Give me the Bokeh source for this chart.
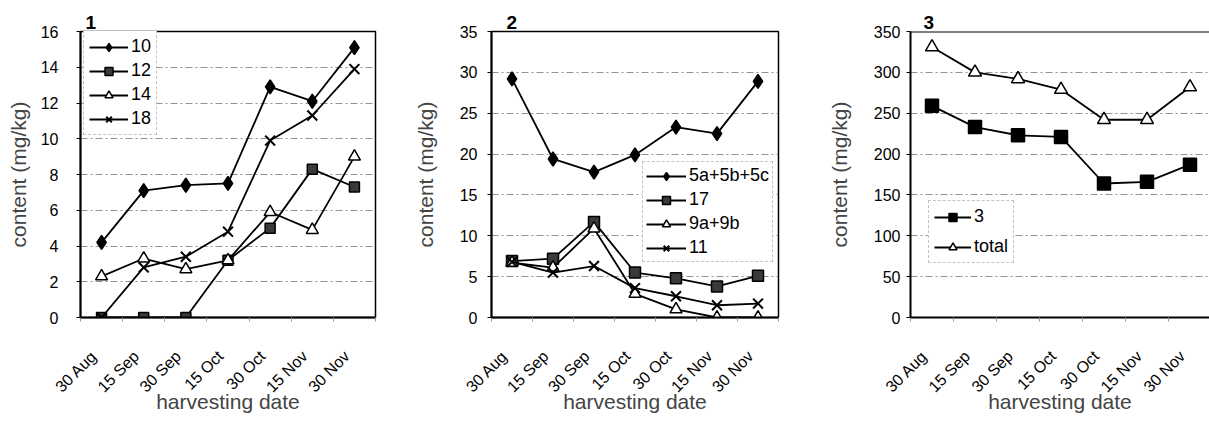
import math
from bokeh.plotting import figure
from bokeh.layouts import row
from bokeh.models import FixedTicker, Legend, LegendItem, Range1d, Span
from bokeh.embed import file_html
from bokeh.resources import INLINE

# ---------------- data ----------------
dates = ["30 Aug", "15 Sep", "30 Sep", "15 Oct", "30 Oct", "15 Nov", "30 Nov"]

# panel 1
p1_names = ["10", "12", "14", "18"]
s10 = [4.2, 7.1, 7.4, 7.5, 12.9, 12.1, 15.1]
s12 = [0, 0, 0, 3.2, 5.0, 8.3, 7.3]
s14 = [2.3, 3.3, 2.7, 3.2, 5.9, 4.9, 9.0]
s18 = [0, 2.8, 3.4, 4.8, 9.9, 11.3, 13.9]

# panel 2
p2_names = ["5a+5b+5c", "17", "9a+9b", "11"]
s5abc = [29.2, 19.4, 17.8, 19.9, 23.3, 22.5, 28.9]
s17 = [6.9, 7.2, 11.7, 5.5, 4.8, 3.8, 5.1]
s9ab = [6.7, 6.1, 10.9, 2.9, 1.0, 0, 0]
s11 = [6.8, 5.5, 6.3, 3.6, 2.6, 1.5, 1.7]

# panel 3
p3_names = ["3", "total"]
s3 = [259, 233, 223, 221, 164, 166, 187]
stotal = [331, 300, 292, 279, 242, 242, 282]

FONT = "Liberation Sans"
xi = list(range(len(dates)))
LABEL_SHIFT = -0.18   # rotated tick labels sit slightly left of the category centre


def make_fig(width, mb_left, mb_right, mb_top, mb_bottom, ymax, ystep, xend,
             tick_standoff, ylabel_standoff, title, title_offset):
    p = figure(width=width, height=423, output_backend="svg", toolbar_location=None,
               min_border_left=mb_left, min_border_right=mb_right,
               min_border_top=mb_top, min_border_bottom=mb_bottom,
               x_range=Range1d(-0.5, xend), y_range=Range1d(0, ymax))
    p.background_fill_color = "white"
    p.border_fill_color = "white"
    p.outline_line_color = "black"
    p.outline_line_width = 1.5
    p.outline_line_alpha = 1

    p.title.text = title
    p.title.align = "left"
    p.title.offset = title_offset
    p.title.standoff = 6
    p.title.text_font = FONT
    p.title.text_font_size = "19px"
    p.title.text_font_style = "bold"
    p.title.text_color = "black"

    # x axis
    xa = p.xaxis[0]
    label_ticks = [i + LABEL_SHIFT for i in xi]
    xa.ticker = FixedTicker(ticks=label_ticks,
                            minor_ticks=[i - 0.5 for i in range(len(dates) + 1)])
    xa.major_label_overrides = {t: d for t, d in zip(label_ticks, dates)}
    xa.major_label_orientation = math.pi / 4
    xa.major_label_text_font = FONT
    xa.major_label_text_font_size = "16px"
    xa.major_label_text_color = "black"
    xa.major_label_standoff = 30
    xa.major_tick_line_color = None
    xa.minor_tick_line_color = "#999999"
    xa.minor_tick_out = 4
    xa.minor_tick_in = 0
    xa.axis_line_width = 2
    xa.axis_line_color = "black"
    xa.axis_label = "harvesting date"
    xa.axis_label_text_font = FONT
    xa.axis_label_text_font_size = "21px"
    xa.axis_label_text_font_style = "normal"
    xa.axis_label_standoff = -14

    # y axis
    ya = p.yaxis[0]
    ya.ticker = FixedTicker(ticks=list(range(0, ymax + 1, ystep)))
    ya.major_label_text_font = FONT
    ya.major_label_text_font_size = "16px"
    ya.major_label_text_color = "black"
    ya.major_label_standoff = tick_standoff
    ya.major_tick_out = 4
    ya.major_tick_in = 0
    ya.major_tick_line_color = "black"
    ya.minor_tick_line_color = None
    ya.axis_line_width = 2
    ya.axis_line_color = "black"
    ya.axis_label = "content (mg/kg)"
    ya.axis_label_text_font = FONT
    ya.axis_label_text_font_size = "21px"
    ya.axis_label_text_font_style = "normal"
    ya.axis_label_standoff = ylabel_standoff

    p.xgrid.grid_line_color = None
    p.ygrid.grid_line_color = "#777777"
    p.ygrid.grid_line_dash = "7 3 2 3"
    p.ygrid.grid_line_width = 1
    p.ygrid.grid_line_alpha = 0.8
    return p


def add_series(p, ys, marker, size, fill, lw=1.8, mlw=1.5):
    r_line = p.line(xi, ys, line_color="black", line_width=lw)
    r_pts = p.scatter(xi, ys, marker=marker, size=size, fill_color=fill,
                      line_color="black", line_width=mlw)
    return [r_line, r_pts]


def add_legend(p, names, rends, loc, glyph_width, spacing, padding):
    lg = Legend(items=[LegendItem(label=n, renderers=rr) for n, rr in zip(names, rends)],
                location=loc)
    lg.glyph_width = glyph_width
    lg.glyph_height = 20
    lg.label_height = 20
    lg.label_standoff = 3
    lg.spacing = spacing
    lg.padding = padding
    lg.margin = 0
    lg.label_text_font = FONT
    lg.label_text_font_size = "18px"
    lg.label_text_color = "black"
    lg.border_line_color = "#888888"
    lg.border_line_dash = "3 2"
    lg.border_line_width = 1
    lg.background_fill_color = "white"
    lg.background_fill_alpha = 1
    p.add_layout(lg, "center")


# ---------------- panel 1 ----------------
# frame x 80..375, y 31..317
p1 = make_fig(390, 80, 15, 31, 106, 16, 2, 6.5, 18, 8, "1", 5)
r = [add_series(p1, s10, "diamond", 14, "black"),
     add_series(p1, s12, "square", 10, "#3a3a3a"),
     add_series(p1, s14, "triangle", 12, "white"),
     add_series(p1, s18, "x", 14, "black", mlw=2)]
add_legend(p1, p1_names, r, (3, 182), 39, 3, 5)

# ---------------- panel 2 ----------------
# frame x 491..778, y 30..317
p2 = make_fig(430, 101, 42, 30, 106, 35, 5, 6.5, 10, 20, "2", 15)
r = [add_series(p2, s5abc, "diamond", 14, "black"),
     add_series(p2, s17, "square", 11, "#3a3a3a"),
     add_series(p2, s9ab, "triangle", 12, "white"),
     add_series(p2, s11, "x", 14, "black", mlw=2)]
add_legend(p2, p2_names, r, (151, 55), 40, 3, 3)

# ---------------- panel 3 ----------------
# frame x 910..1209, y 28..321
p3 = make_fig(389, 90, 0, 28, 102, 350, 50, -0.5 + 299 / 43.0, 6, 20, "3", 13)
p3.outline_line_color = None
p3.add_layout(Span(location=350, dimension="width", line_color="black", line_width=2))
r = [add_series(p3, s3, "square", 13, "black"),
     add_series(p3, stotal, "triangle", 13, "white")]
add_legend(p3, p3_names, r, (18, 54), 37, 9, 5)

layout = row(p1, p2, p3, spacing=0)
open("out.html", "w").write(file_html(layout, INLINE))
